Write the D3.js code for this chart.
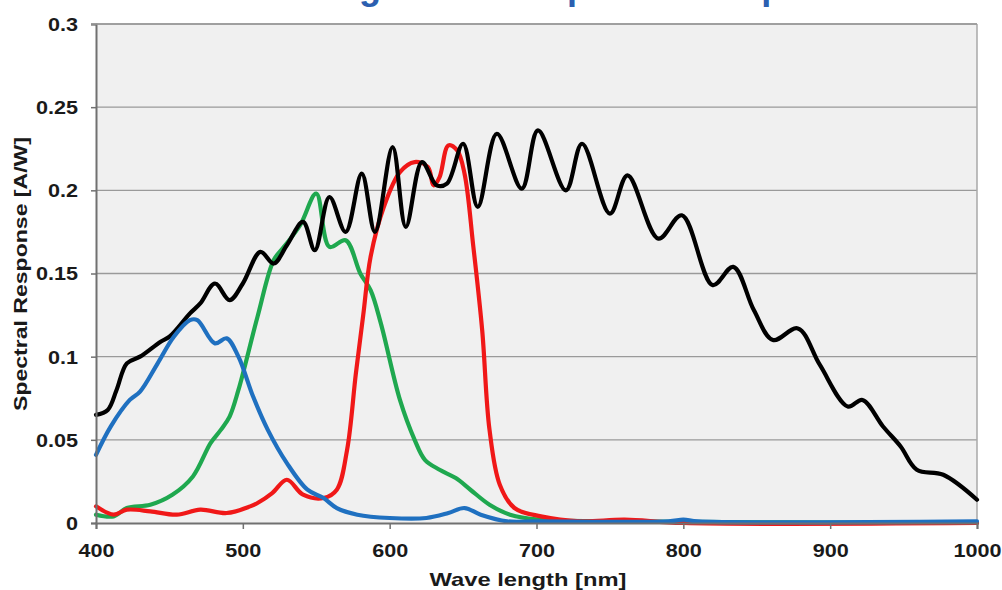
<!DOCTYPE html>
<html>
<head>
<meta charset="utf-8">
<script src="https://cdn.jsdelivr.net/npm/d3@7"></script>
<style>
  body { margin: 0; background: #fff; }
  svg { display: block; font-family: "Liberation Sans", Arial, sans-serif; }
</style>
</head>
<body>
<div id="chart"></div>
<script>
// values
const yTicks = [0, 0.05, 0.1, 0.15, 0.2, 0.25, 0.3];
const xTicks = [400, 500, 600, 700, 800, 900, 1000];

const blackNm = [400, 408, 414, 421, 430, 444, 450, 464, 471, 481, 491, 500, 512, 521, 530, 541, 549, 559, 570, 581, 590, 602, 611, 622, 632, 639, 650, 660, 673, 690, 701, 720, 731, 750, 762, 783, 799, 820, 834, 848, 861, 878, 893, 912, 922, 936, 948, 959, 977, 1000];
const blackVal = [0.065, 0.068, 0.080, 0.096, 0.100, 0.109, 0.112, 0.126, 0.132, 0.144, 0.134, 0.144, 0.163, 0.156, 0.167, 0.181, 0.164, 0.196, 0.175, 0.210, 0.175, 0.226, 0.178, 0.217, 0.203, 0.204, 0.228, 0.190, 0.234, 0.201, 0.236, 0.200, 0.228, 0.186, 0.209, 0.171, 0.185, 0.143, 0.154, 0.128, 0.110, 0.117, 0.095, 0.070, 0.074, 0.058, 0.046, 0.032, 0.029, 0.014];

const redNm = [400, 412, 421, 437, 455, 471, 489, 505, 510, 520, 530, 541, 555, 564, 571, 577, 582, 587, 596, 607, 617, 626, 630, 634, 640, 646, 651, 657, 663, 668, 675, 685, 703, 730, 760, 800, 1000];
const redVal = [0.010, 0.005, 0.008, 0.007, 0.005, 0.008, 0.006, 0.010, 0.012, 0.018, 0.026, 0.017, 0.015, 0.020, 0.044, 0.090, 0.125, 0.160, 0.190, 0.211, 0.217, 0.214, 0.203, 0.208, 0.227, 0.224, 0.210, 0.166, 0.116, 0.056, 0.023, 0.009, 0.004, 0.001, 0.002, 0.000, 0.000];

const greenNm = [400, 412, 421, 437, 452, 466, 478, 485, 491, 497, 510, 521, 528, 539, 550, 559, 570, 580, 587, 594, 607, 617, 624, 634, 645, 655, 668, 682, 702, 750, 1000];
const greenVal = [0.005, 0.004, 0.009, 0.011, 0.017, 0.028, 0.048, 0.056, 0.064, 0.080, 0.124, 0.158, 0.166, 0.179, 0.198, 0.166, 0.170, 0.150, 0.140, 0.120, 0.074, 0.050, 0.038, 0.032, 0.027, 0.020, 0.011, 0.005, 0.002, 0.001, 0.000];

const blueNm = [400, 410, 423, 430, 442, 453, 464, 469, 481, 489, 497, 507, 517, 530, 544, 555, 564, 578, 600, 625, 640, 651, 662, 680, 700, 790, 800, 810, 1000];
const blueVal = [0.041, 0.058, 0.074, 0.079, 0.096, 0.112, 0.122, 0.122, 0.108, 0.111, 0.100, 0.076, 0.056, 0.036, 0.020, 0.015, 0.009, 0.005, 0.003, 0.003, 0.006, 0.009, 0.005, 0.001, 0.001, 0.001, 0.002, 0.001, 0.001];

const series = [
  { name: "green", color: "#1fa84f", nm: greenNm, val: greenVal },
  { name: "red", color: "#f01818", nm: redNm, val: redVal },
  { name: "black", color: "#000000", nm: blackNm, val: blackVal },
  { name: "blue", color: "#1f70c0", nm: blueNm, val: blueVal }
];

const width = 1002, height = 590;
const margin = { top: 24, right: 25, bottom: 67, left: 96 };
const svg = d3.select("#chart").append("svg")
  .attr("width", width)
  .attr("height", height);

const x = d3.scaleLinear().domain([400, 1000]).range([margin.left, width - margin.right]);
const y = d3.scaleLinear().domain([0, 0.3]).range([height - margin.bottom, margin.top]);

// stretch text horizontally like the original picture
function stretch(sel, k) {
  sel.each(function() {
    const w = this.getComputedTextLength();
    d3.select(this).attr("textLength", w * k).attr("lengthAdjust", "spacingAndGlyphs");
  });
}

// title, mostly cut off at the top edge (as in the source picture)
svg.append("text")
  .attr("x", 297)
  .attr("y", -1)
  .attr("font-size", 36)
  .attr("font-weight", "bold")
  .attr("fill", "#2c5fb0")
  .text("Image Sensor Spectral Response");

// plot background
svg.append("rect")
  .attr("x", x(400)).attr("y", y(0.3))
  .attr("width", x(1000) - x(400)).attr("height", y(0) - y(0.3))
  .attr("fill", "#f0f0f0");

// gridlines
svg.append("g")
  .selectAll("line")
  .data(yTicks.filter(d => d > 0))
  .enter().append("line")
  .attr("x1", x(400)).attr("x2", x(1000))
  .attr("y1", d => y(d)).attr("y2", d => y(d))
  .attr("stroke", "#9a9a9a")
  .attr("stroke-width", 1.3);

// right border
svg.append("line")
  .attr("x1", x(1000)).attr("x2", x(1000))
  .attr("y1", y(0.3)).attr("y2", y(0))
  .attr("stroke", "#a8a8a8").attr("stroke-width", 1.5);

// curves
const line = d3.line()
  .x(d => x(d[0]))
  .y(d => y(d[1]))
  .curve(d3.curveCatmullRom.alpha(0.5));

svg.append("g")
  .selectAll("path")
  .data(series)
  .enter().append("path")
  .attr("d", s => line(s.nm.map((n, i) => [n, s.val[i]])))
  .attr("fill", "none")
  .attr("stroke", s => s.color)
  .attr("stroke-width", 4.2)
  .attr("stroke-linejoin", "round")
  .attr("stroke-linecap", "round");

// y axis
const yAxis = svg.append("g")
  .attr("transform", `translate(${x(400)},0)`)
  .call(d3.axisLeft(y).tickValues(yTicks).tickSize(5).tickPadding(13)
    .tickFormat(d => String(+d.toFixed(2))));
yAxis.select(".domain").attr("stroke", "#707070").attr("stroke-width", 2);
yAxis.selectAll(".tick line").attr("stroke", "#707070").attr("stroke-width", 1.5);
yAxis.selectAll(".tick text")
  .attr("font-size", 18).attr("font-weight", "bold")
  .attr("font-family", "Liberation Sans, Arial, sans-serif")
  .attr("fill", "#1a1a1a").attr("dy", "0.36em");
stretch(yAxis.selectAll(".tick text"), 1.2);

// x axis
const xAxis = svg.append("g")
  .attr("transform", `translate(0,${y(0)})`)
  .call(d3.axisBottom(x).tickValues(xTicks).tickSize(6).tickFormat(d3.format("d")));
xAxis.select(".domain").attr("stroke", "#707070").attr("stroke-width", 2);
xAxis.selectAll(".tick line").attr("stroke", "#707070").attr("stroke-width", 1.5);
xAxis.selectAll(".tick text")
  .attr("font-size", 18).attr("font-weight", "bold")
  .attr("font-family", "Liberation Sans, Arial, sans-serif")
  .attr("fill", "#1a1a1a").attr("y", 34).attr("dy", 0);
stretch(xAxis.selectAll(".tick text"), 1.2);

// top border over the axis group
svg.append("line")
  .attr("x1", x(400) - 5).attr("x2", x(1000))
  .attr("y1", y(0.3)).attr("y2", y(0.3))
  .attr("stroke", "#9a9a9a").attr("stroke-width", 1.5);

// axis titles
svg.append("text")
  .attr("x", 528).attr("y", 586)
  .attr("text-anchor", "middle")
  .attr("font-size", 19).attr("font-weight", "bold")
  .attr("fill", "#1a1a1a")
  .text("Wave length [nm]")
  .call(stretch, 1.25);

svg.append("text")
  .attr("transform", "translate(27,274) rotate(-90)")
  .attr("text-anchor", "middle")
  .attr("font-size", 18).attr("font-weight", "bold")
  .attr("fill", "#1a1a1a")
  .text("Spectral Response [A/W]")
  .call(stretch, 1.28);
</script>
</body>
</html>
